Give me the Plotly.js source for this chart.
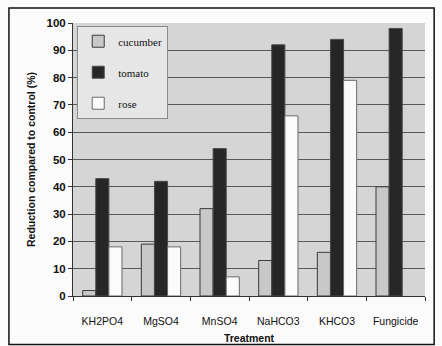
<!DOCTYPE html>
<html>
<head>
<meta charset="utf-8">
<script src="https://cdn.plot.ly/plotly-3.0.1.min.js"></script>
<style>
  html, body { margin: 0; padding: 0; background: #ffffff; }
  #chart { width: 442px; height: 346px; }
</style>
</head>
<body>
<div id="chart"></div>
<script>
// Treatments on the x axis
const treatments = ["KH2PO4", "MgSO4", "MnSO4", "NaHCO3", "KHCO3", "Fungicide"];

// Reduction compared to control (%) per crop
const cucumber = [2, 19, 32, 13, 16, 40];
const tomato   = [43, 42, 54, 92, 94, 98];
const rose     = [18, 18, 7, 66, 79, null];

const yTicks = [0, 10, 20, 30, 40, 50, 60, 70, 80, 90, 100];

const boldFont = { family: "Liberation Sans, Arial, sans-serif", size: 10.5, color: "#111111" };

const traces = [
  {
    type: "bar", name: "cucumber", x: treatments, y: cucumber, legendgroup: "a",
    marker: { color: "#c8c8c8", line: { color: "#3a3a3a", width: 1 } }
  },
  {
    type: "bar", name: "tomato", x: treatments, y: tomato, legendgroup: "b",
    marker: { color: "#262626", line: { color: "#4a4a4a", width: 1 } }
  },
  {
    type: "bar", name: "rose", x: treatments, y: rose, legendgroup: "c",
    marker: { color: "#fbfbfb", line: { color: "#6a6a6a", width: 1 } }
  }
];

const layout = {
  width: 442,
  height: 346,
  margin: { l: 73, r: 17, t: 23, b: 50 },
  paper_bgcolor: "#fbfbfb",
  plot_bgcolor: "#d5d5d5",
  barmode: "group",
  bargap: 0.33,
  bargroupgap: 0,
  showlegend: true,
  legend: {
    x: 0.012, y: 0.99, xanchor: "left", yanchor: "top",
    bgcolor: "#e6e6e6", bordercolor: "#8a8a8a", borderwidth: 1,
    font: { family: "Liberation Serif, Times New Roman, serif", size: 11, color: "#111111" },
    traceorder: "grouped",
    tracegroupgap: 12,
    itemwidth: 30
  },
  xaxis: {
    type: "category",
    tickson: "boundaries",
    ticks: "outside", ticklen: 4, tickcolor: "#333333",
    ticklabelstandoff: 15,
    showline: true, linecolor: "#333333", linewidth: 1,
    showgrid: false,
    tickfont: boldFont,
    title: { text: "<b>Treatment</b>", font: boldFont, standoff: 9 }
  },
  yaxis: {
    range: [0, 100],
    tickvals: yTicks,
    ticktext: yTicks.map(v => "<b>" + v + "</b>"),
    ticks: "outside", ticklen: 4, tickcolor: "#333333",
    showline: true, linecolor: "#333333", linewidth: 1,
    showgrid: true, gridcolor: "#5a5a5a", gridwidth: 1,
    zeroline: false,
    tickfont: { family: "Liberation Sans, Arial, sans-serif", size: 11.5, color: "#111111" },
    title: { text: "<b>Reduction compared to control (%)</b>", font: boldFont, standoff: 8 }
  },
  shapes: [
    {
      type: "rect", xref: "paper", yref: "paper",
      x0: -0.182, x1: 1.026, y0: -0.178, y1: 1.055,
      line: { color: "#111111", width: 1.5 }, fillcolor: "rgba(0,0,0,0)", layer: "below"
    }
  ]
};

Plotly.newPlot("chart", traces, layout, { staticPlot: true, displayModeBar: false });
</script>
</body>
</html>
